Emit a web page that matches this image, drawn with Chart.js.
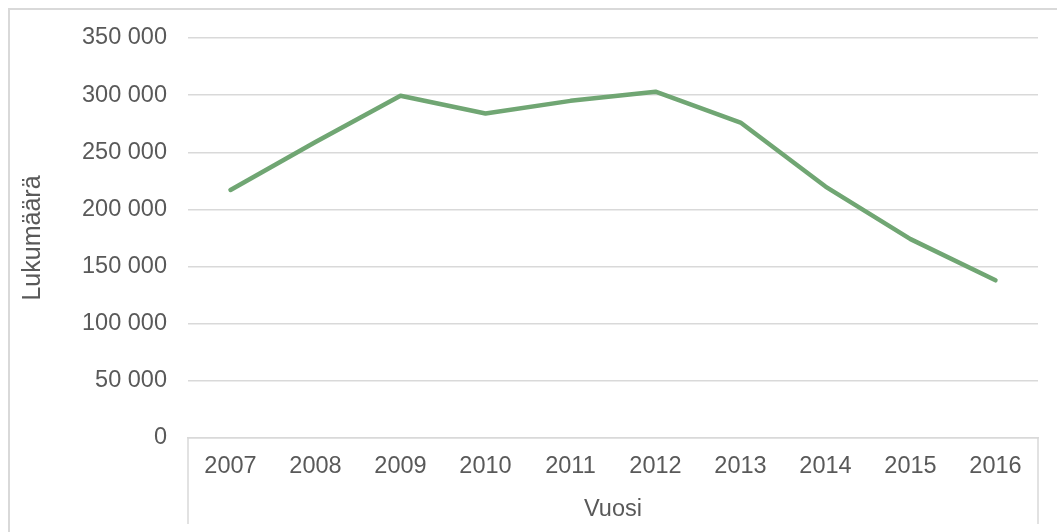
<!DOCTYPE html>
<html>
<head>
<meta charset="utf-8">
<script src="https://cdn.jsdelivr.net/npm/chart.js@4/dist/chart.umd.min.js"></script>
<style>
  html, body { margin: 0; padding: 0; background: #fff; overflow: hidden; }
  #wrap { position: relative; width: 1057px; height: 532px; }
  #frame { position: absolute; left: 8px; top: 8px; width: 1080px; height: 600px;
           border: 2px solid #D9D9D9; box-sizing: border-box; pointer-events: none; }
  canvas { position: absolute; left: 0; top: 0; }
</style>
</head>
<body>
<div id="wrap">
  <canvas id="c" width="1057" height="532"></canvas>
  <div id="frame"></div>
</div>
<script>
const categories = ['2007','2008','2009','2010','2011','2012','2013','2014','2015','2016'];
const values = [217000, 259000, 299500, 284000, 295000, 303000, 276000, 220000, 174000, 138000];
const yTicks = [0, 50000, 100000, 150000, 200000, 250000, 300000, 350000];
const xTitle = 'Vuosi';
const yTitle = 'Lukumäärä';

const TEXT = '#595959';
const GRID = '#D9D9D9';
const FONT = { family: '"Liberation Sans", Arial, sans-serif', size: 23.5 };
const YTITLE_FONT = { family: '"Liberation Sans", Arial, sans-serif', size: 25 };

function fmt(v) {
  return String(v).replace(/\B(?=(\d{3})+(?!\d))/g, ' ');
}

const axisEdges = {
  id: 'axisEdges',
  afterDraw(chart) {
    const { ctx, chartArea } = chart;
    ctx.save();
    ctx.strokeStyle = GRID;
    ctx.lineWidth = 1.5;
    ctx.beginPath();
    [chartArea.left, chartArea.right].forEach(x => {
      ctx.moveTo(x, chartArea.bottom);
      ctx.lineTo(x, chartArea.bottom + 86);
    });
    ctx.stroke();
    ctx.restore();
  }
};

new Chart(document.getElementById('c'), {
  type: 'line',
  data: {
    labels: categories,
    datasets: [{
      data: values,
      borderColor: '#70A673',
      backgroundColor: '#70A673',
      borderWidth: 4.5,
      borderCapStyle: 'round',
      borderJoinStyle: 'round',
      pointRadius: 0,
      tension: 0,
      fill: false
    }]
  },
  options: {
    responsive: false,
    animation: false,
    devicePixelRatio: 1,
    layout: { padding: { top: 38, right: 19, bottom: 0, left: 0 } },
    plugins: { legend: { display: false }, tooltip: { enabled: false } },
    scales: {
      x: {
        type: 'category',
        offset: true,
        grid: { display: false, drawTicks: false },
        border: { display: true, color: GRID, width: 1.5 },
        ticks: { color: TEXT, font: FONT, padding: 14, maxRotation: 0, autoSkip: false },
        title: { display: true, text: xTitle, color: TEXT, font: FONT, padding: { top: 2, bottom: 8 } },
        afterFit(s) { s.height = 94; }
      },
      y: {
        min: 0,
        max: 350000,
        afterBuildTicks(s) { s.ticks = yTicks.map(v => ({ value: v })); },
        grid: { color: GRID, lineWidth: 1.5, drawTicks: false },
        border: { display: false },
        ticks: { color: TEXT, font: FONT, padding: 21, callback: v => fmt(v) },
        title: { display: true, text: yTitle, color: TEXT, font: YTITLE_FONT, padding: { top: 18, bottom: 0 } },
        afterFit(s) { s.width = 188; s.paddingTop = 0; s.paddingBottom = 0; }
      }
    }
  },
  plugins: [axisEdges]
});
</script>
</body>
</html>
